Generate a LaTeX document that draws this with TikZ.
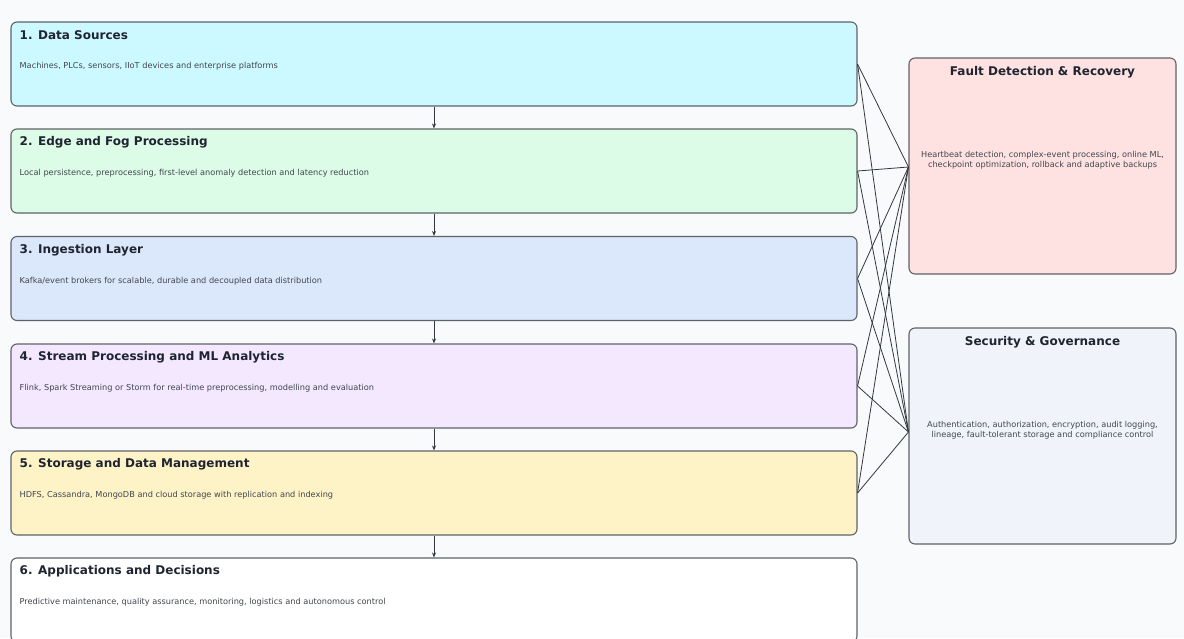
\documentclass[tikz,border=0pt]{standalone}
\usepackage{fontspec}
\setmainfont{DejaVu Sans}
\usetikzlibrary{arrows.meta,calc}
\definecolor{bgc}{HTML}{F8FAFC}
\definecolor{edgec}{HTML}{5F6368}
\definecolor{linec}{HTML}{333840}
\definecolor{txtc}{HTML}{1F2430}
\definecolor{cA}{HTML}{CCF9FF}
\definecolor{cB}{HTML}{DCFCE7}
\definecolor{cC}{HTML}{DBE8FC}
\definecolor{cD}{HTML}{F3E8FF}
\definecolor{cE}{HTML}{FEF3C7}
\definecolor{cF}{HTML}{FFFFFF}
\definecolor{cR}{HTML}{FEE2E2}
\definecolor{cS}{HTML}{F0F4FA}
\begin{document}
\begin{tikzpicture}[x=1pt,y=-1pt,
  layer/.style={draw=edgec, line width=1.1pt, rounded corners=6pt, minimum width=846pt, minimum height=84pt, inner sep=0pt},
  side/.style={draw=edgec, line width=1.1pt, rounded corners=6pt, minimum width=267pt, minimum height=216pt, inner sep=0pt},
  ttl/.style={anchor=west, inner sep=0pt, font=\fontsize{12}{14}\selectfont\bfseries, text=txtc},
  desc/.style={anchor=west, inner sep=0pt, font=\fontsize{8.2}{10}\selectfont, text=txtc!85},
  sttl/.style={inner sep=0pt, font=\fontsize{12}{14}\selectfont\bfseries, text=txtc},
  sdesc/.style={inner sep=0pt, align=center, font=\fontsize{8.2}{10}\selectfont, text=txtc!85},
  flow/.style={draw=linec, line width=0.9pt, -{Stealth[length=5pt,width=4pt]}},
  link/.style={draw=linec, line width=0.8pt}
]
\fill[bgc] (0,0) rectangle (1184,638);
\useasboundingbox (0,0) rectangle (1184,638);

% layers
\node[layer, fill=cA] (l1) at (434,64) {};
\node[layer, fill=cB] (l2) at (434,171) {};
\node[layer, fill=cC] (l3) at (434,278.5) {};
\node[layer, fill=cD] (l4) at (434,386) {};
\node[layer, fill=cE] (l5) at (434,493) {};
\node[layer, fill=cF] (l6) at (434,600) {};

\foreach \i/\t/\d in {
  1/{1. Data Sources}/{Machines, PLCs, sensors, IIoT devices and enterprise platforms},
  2/{2. Edge and Fog Processing}/{Local persistence, preprocessing, first-level anomaly detection and latency reduction},
  3/{3. Ingestion Layer}/{Kafka/event brokers for scalable, durable and decoupled data distribution},
  4/{4. Stream Processing and ML Analytics}/{Flink, Spark Streaming or Storm for real-time preprocessing, modelling and evaluation},
  5/{5. Storage and Data Management}/{HDFS, Cassandra, MongoDB and cloud storage with replication and indexing},
  6/{6. Applications and Decisions}/{Predictive maintenance, quality assurance, monitoring, logistics and autonomous control}}{
  \node[ttl] (t\i) at ($(l\i.north west)+(9,14)$) {\t};
  \node[desc] (d\i) at ($(l\i.north west)+(9,45)$) {\d};
}

% vertical flow
\foreach \a/\b in {1/2,2/3,3/4,4/5,5/6}{
  \draw[flow] (l\a.south) -- (l\b.north);
}

% side boxes
\node[side, fill=cR] (fr) at (1042.5,166) {};
\node[side, fill=cS] (sg) at (1042.5,436) {};
\node[sttl] (frt) at ($(fr.north)+(0,15)$) {Fault Detection \& Recovery};
\node[sdesc] (frd) at ($(fr.center)+(0,-6)$) {Heartbeat detection, complex-event processing, online ML,\\checkpoint optimization, rollback and adaptive backups};
\node[sttl] (sgt) at ($(sg.north)+(0,15)$) {Security \& Governance};
\node[sdesc] (sgd) at ($(sg.center)+(0,-6)$) {Authentication, authorization, encryption, audit logging,\\lineage, fault-tolerant storage and compliance control};

\coordinate (frin) at ($(fr.west)+(0,1)$);
\coordinate (sgin) at ($(sg.west)+(0,-4)$);

% links to side boxes
\foreach \i in {1,...,5}{
  \draw[link] (l\i.east) -- (frin);
  \draw[link] (l\i.east) -- (sgin);
}
\end{tikzpicture}
\end{document}
